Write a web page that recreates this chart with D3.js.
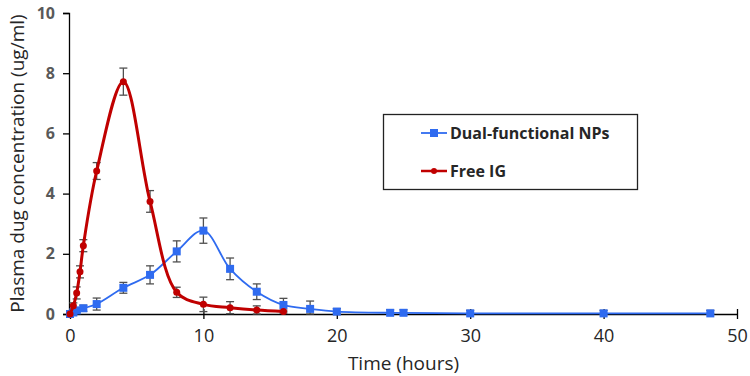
<!DOCTYPE html>
<html>
<head>
<meta charset="utf-8">
<script src="https://cdn.jsdelivr.net/npm/d3@7"></script>
<style>
  body { margin: 0; background: #fff; }
  svg { display: block; }
</style>
</head>
<body>
<div id="chart"></div>
<script>
// Free IG (red)
const freeTimes = [0, 0.25, 0.5, 0.75, 1, 2, 4, 6, 8, 10, 12, 14, 16];
const freeValues = [0, 0.27, 0.7, 1.4, 2.27, 4.75, 7.72, 3.74, 0.72, 0.32, 0.21, 0.13, 0.08];
const freeErrors = [0.05, 0.1, 0.2, 0.2, 0.2, 0.28, 0.45, 0.36, 0.17, 0.24, 0.2, 0.14, 0.05];

// Dual-functional NPs (blue)
const npTimes = [0, 0.25, 0.5, 1, 2, 4, 6, 8, 10, 12, 14, 16, 18, 20, 24, 25, 30, 40, 48];
const npValues = [0, 0.05, 0.12, 0.19, 0.33, 0.87, 1.3, 2.08, 2.77, 1.5, 0.74, 0.3, 0.17, 0.08, 0.04, 0.04, 0.02, 0.02, 0.02];
const npErrors = [0.03, 0.05, 0.08, 0.1, 0.2, 0.18, 0.3, 0.35, 0.42, 0.36, 0.26, 0.22, 0.26, 0.1, 0.1, 0.1, 0.1, 0.1, 0.1];

const xTicks = [0, 10, 20, 30, 40, 50];
const yTicks = [0, 2, 4, 6, 8, 10];

const W = 750, H = 376;
const margin = { top: 13, right: 13, bottom: 62, left: 70 };

const svg = d3.select("#chart").append("svg")
  .attr("width", W).attr("height", H);

const x = d3.scaleLinear().domain([0, 50]).range([margin.left, W - margin.right]);
const y = d3.scaleLinear().domain([0, 10]).range([H - margin.bottom, margin.top]);

// Y axis
const yAxis = svg.append("g")
  .attr("transform", `translate(${margin.left - 1},0)`)
  .call(d3.axisLeft(y).tickValues(yTicks).tickSize(6).tickPadding(8));
yAxis.select(".domain").attr("stroke", "#000").attr("stroke-width", 1.3);
yAxis.selectAll(".tick line").attr("stroke", "#000").attr("stroke-width", 1.3);
yAxis.selectAll("text")
  .attr("font-family", "'Open Sans', 'Noto Sans', sans-serif")
  .attr("font-weight", "bold")
  .attr("font-size", 16)
  .attr("fill", "#595959");

// X axis
const xAxis = svg.append("g")
  .attr("transform", `translate(0,${y(0)})`)
  .call(d3.axisBottom(x).tickValues(xTicks).tickSize(5).tickSizeOuter(0).tickPadding(10));
xAxis.select(".domain").attr("stroke", "#000").attr("stroke-width", 1.3);
xAxis.selectAll(".tick line").attr("stroke", "#000").attr("stroke-width", 1.3).attr("y1", -5);
xAxis.selectAll("text")
  .attr("font-family", "'Open Sans', 'Noto Sans', sans-serif")
  .attr("font-size", 18)
  .attr("fill", "#262626");

// Axis titles
svg.append("text")
  .attr("x", (x(0) + x(50)) / 2)
  .attr("y", 370)
  .attr("text-anchor", "middle")
  .attr("font-family", "'Open Sans', 'Noto Sans', sans-serif")
  .attr("font-size", 19)
  .attr("fill", "#262626")
  .text("Time (hours)");

svg.append("text")
  .attr("transform", `translate(24,${(y(0) + y(10)) / 2}) rotate(-90)`)
  .attr("text-anchor", "middle")
  .attr("font-family", "'Open Sans', 'Noto Sans', sans-serif")
  .attr("font-size", 19)
  .attr("fill", "#262626")
  .text("Plasma dug concentration (ug/ml)");

const npColor = "#2f6bf0";
const freeColor = "#c00000";
const errColor = "#505050";

function makeRows(times, values, errors) {
  return times.map((t, i) => ({ t, v: values[i], e: errors[i] }));
}
const npData = makeRows(npTimes, npValues, npErrors);
const freeData = makeRows(freeTimes, freeValues, freeErrors);

const line = d3.line()
  .x(d => x(d.t))
  .y(d => y(d.v))
  .curve(d3.curveCatmullRom.alpha(0.5));

function drawErrors(data) {
  const g = svg.append("g").attr("stroke", errColor).attr("stroke-width", 1.3);
  data.forEach(d => {
    const top = y(d.v + d.e), bot = y(Math.max(0, d.v - d.e));
    g.append("line").attr("x1", x(d.t)).attr("x2", x(d.t)).attr("y1", top).attr("y2", bot);
    g.append("line").attr("x1", x(d.t) - 4).attr("x2", x(d.t) + 4).attr("y1", top).attr("y2", top);
    g.append("line").attr("x1", x(d.t) - 4).attr("x2", x(d.t) + 4).attr("y1", bot).attr("y2", bot);
  });
}

drawErrors(npData);
drawErrors(freeData);

// Blue series
svg.append("path")
  .datum(npData)
  .attr("d", line)
  .attr("fill", "none")
  .attr("stroke", npColor)
  .attr("stroke-width", 1.8);

svg.selectAll(".np-point")
  .data(npData)
  .enter()
  .append("rect")
  .attr("class", "np-point")
  .attr("x", d => x(d.t) - 4)
  .attr("y", d => y(d.v) - 4)
  .attr("width", 8)
  .attr("height", 8)
  .attr("fill", npColor);

// Red series
svg.append("path")
  .datum(freeData)
  .attr("d", line)
  .attr("fill", "none")
  .attr("stroke", freeColor)
  .attr("stroke-width", 3);

svg.selectAll(".free-point")
  .data(freeData)
  .enter()
  .append("circle")
  .attr("class", "free-point")
  .attr("cx", d => x(d.t))
  .attr("cy", d => y(d.v))
  .attr("r", 3.5)
  .attr("fill", freeColor);

// Legend
const legend = svg.append("g");
legend.append("rect")
  .attr("x", 383.5).attr("y", 114.5)
  .attr("width", 254).attr("height", 75)
  .attr("fill", "#fff")
  .attr("stroke", "#222")
  .attr("stroke-width", 1.3);

const legendItems = [
  { label: "Dual-functional NPs", color: npColor, shape: "square", width: 1.8, cy: 133 },
  { label: "Free IG", color: freeColor, shape: "circle", width: 2.5, cy: 171 },
];
legendItems.forEach(it => {
  legend.append("line")
    .attr("x1", 421).attr("x2", 447)
    .attr("y1", it.cy).attr("y2", it.cy)
    .attr("stroke", it.color).attr("stroke-width", it.width);
  if (it.shape === "square") {
    legend.append("rect").attr("x", 430).attr("y", it.cy - 4).attr("width", 8).attr("height", 8).attr("fill", it.color);
  } else {
    legend.append("circle").attr("cx", 434).attr("cy", it.cy).attr("r", 3).attr("fill", it.color);
  }
  legend.append("text")
    .attr("x", 450).attr("y", it.cy + 6)
    .attr("font-family", "'Open Sans', 'Noto Sans', sans-serif")
    .attr("font-weight", "bold")
    .attr("font-size", 16)
    .attr("fill", "#262626")
    .text(it.label);
});
</script>
</body>
</html>
